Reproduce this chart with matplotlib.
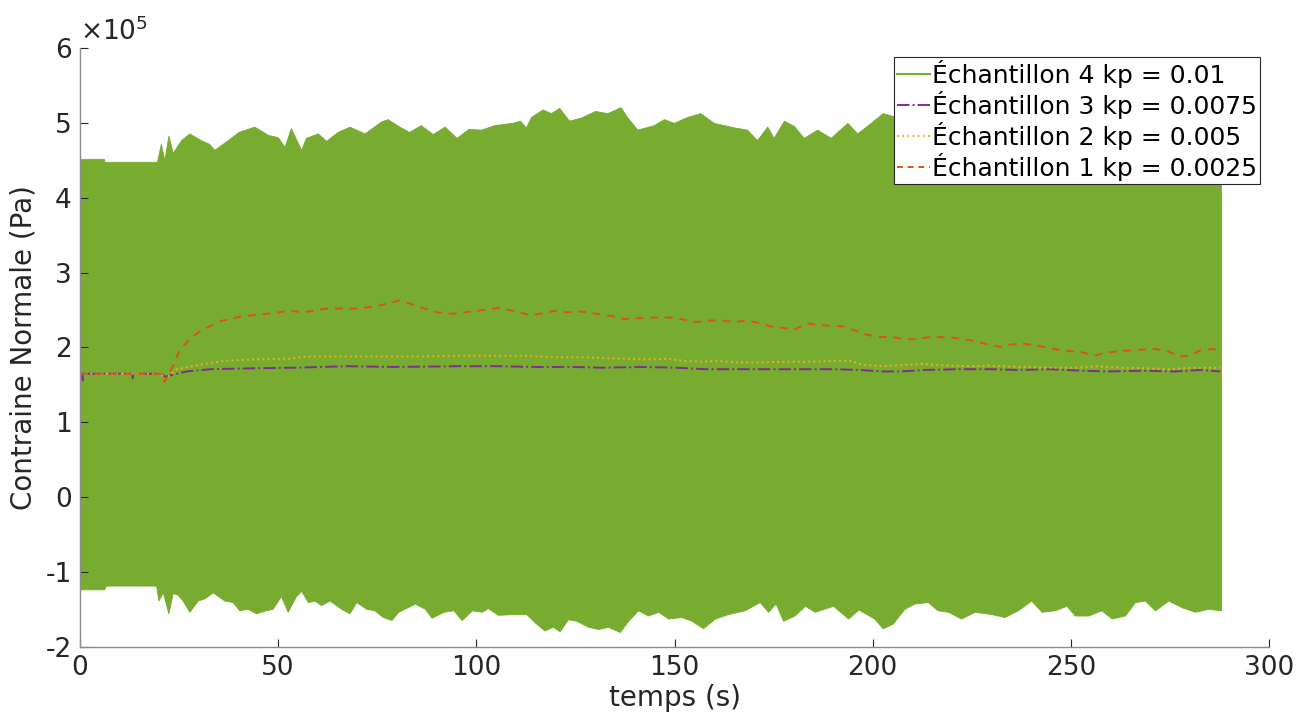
import numpy as np
import matplotlib
matplotlib.use("Agg")
import matplotlib.pyplot as plt
from matplotlib.lines import Line2D

plt.rcParams['font.family'] = ['DejaVu Sans']
plt.rcParams['axes.unicode_minus'] = False

SCALE = 1e5  # values below are in units of 1e5 Pa

# Echantillon 4 (kp = 0.01): envelope of the fast oscillation
t_up = [0, 6.0, 6.2, 19.4, 20.4, 21.3, 22.3, 23.4, 25.5, 27.6, 30.5, 32.6, 33.9, 37.3,
        40.0, 44.0, 47.4, 49.9, 51.6, 53.2, 55.8, 57.0, 60.0, 62.1, 65.0, 68.0, 71.8,
        76.0, 77.6, 80.6, 83, 86, 89, 92, 95, 98, 101.2, 104.5, 109, 111, 112.5, 113.8,
        116.7, 118.8, 120.9, 123.4, 126.3, 130, 133, 136.4, 138, 140.6, 144.8, 147.3,
        149.8, 153.2, 156.5, 159.9, 165, 168.3, 170.8, 173.4, 175, 177.6, 180.1, 182.6,
        186, 189.4, 193.6, 196.1, 199.5, 202.5, 208, 215, 222, 230, 238, 246, 254, 262,
        270, 278, 287.9]
v_up = [4.52, 4.52, 4.48, 4.48, 4.72, 4.50, 4.83, 4.60, 4.77, 4.86, 4.77, 4.72, 4.64, 4.77,
        4.88, 4.95, 4.84, 4.81, 4.68, 4.93, 4.64, 4.80, 4.86, 4.76, 4.88, 4.95, 4.86,
        5.02, 5.05, 4.95, 4.88, 4.97, 4.85, 4.95, 4.80, 4.92, 4.91, 4.97, 5.00, 5.03, 4.94, 5.08,
        5.18, 5.13, 5.20, 5.03, 5.07, 5.16, 5.13, 5.21, 5.08, 4.91, 4.97, 5.05,
        5.00, 5.08, 5.13, 5.00, 4.94, 4.91, 4.77, 4.95, 4.80, 5.03, 4.96, 4.80,
        4.91, 4.80, 5.00, 4.86, 5.00, 5.13, 5.05, 5.10, 5.00, 5.08, 5.02, 5.10, 5.05, 5.12,
        5.08, 5.15, 5.10]

t_low = [0, 6.1, 6.5, 19.2, 19.8, 20.9, 22.3, 23.4, 24.6, 25.9, 27.6, 29.7, 31.4, 33.5,
         36.4, 38.5, 40.2, 42.3, 44.4, 46.9, 48.6, 50.7, 52.4, 54.5, 55.8, 57.5, 59.2,
         60.8, 63.0, 65.9, 68.0, 69.7, 72.2, 74.3, 76.4, 78.6, 80.3, 84.5, 87.0, 88.7,
         91.7, 94.2, 96.3, 98.9, 101.4, 102.9, 105.4, 109.6, 112.6, 114.7, 117.2, 119.3,
         121.0, 123.1, 125.2, 128.2, 130.7, 133.2, 136.2, 138.3, 140.8, 143.3, 145.9,
         148.4, 151.8, 154.3, 157.2, 160.2, 163.5, 167.7, 171.5, 173.6, 175.5, 177.4,
         180.3, 182.9, 185.4, 190.0, 193.8, 196.4, 200.4, 202.5, 205.0, 208.0, 210.5,
         213.9, 216.4, 219.0, 222.3, 225.7, 229.9, 233.3, 236.6, 240.0, 242.6, 245.9,
         248.9, 251.0, 254.4, 257.7, 260.3, 263.6, 266.2, 268.7, 271.2, 274.6, 278.0,
         281.3, 284.7, 287.9]
v_low = [-1.23, -1.23, -1.18, -1.18, -1.38, -1.27, -1.55, -1.28, -1.30, -1.38, -1.53, -1.38, -1.35, -1.27,
         -1.38, -1.40, -1.51, -1.49, -1.55, -1.51, -1.49, -1.32, -1.53, -1.32, -1.25, -1.40, -1.38,
         -1.44, -1.38, -1.49, -1.55, -1.40, -1.49, -1.51, -1.60, -1.64, -1.53, -1.42, -1.49, -1.61,
         -1.53, -1.51, -1.64, -1.51, -1.53, -1.48, -1.57, -1.56, -1.56, -1.67, -1.78, -1.73,
         -1.79, -1.63, -1.65, -1.73, -1.76, -1.73, -1.80, -1.65, -1.51, -1.58, -1.53,
         -1.62, -1.60, -1.65, -1.75, -1.62, -1.56, -1.51, -1.40, -1.53, -1.42, -1.65,
         -1.58, -1.45, -1.53, -1.45, -1.62, -1.50, -1.62, -1.75, -1.69, -1.49, -1.42,
         -1.40, -1.51, -1.53, -1.62, -1.53, -1.56, -1.60, -1.51, -1.38, -1.53, -1.51,
         -1.45, -1.58, -1.58, -1.51, -1.62, -1.58, -1.40, -1.38, -1.51, -1.38, -1.47,
         -1.53, -1.49, -1.51]

# Echantillon 3 (kp = 0.0075)
t_e3 = [0, 0.6, 0.7, 0.8, 13.2, 13.3, 13.4, 20.5, 21.4, 26.9, 32.8, 41.2, 53.8, 68, 79,
        95.8, 105, 115, 125, 131.5, 142, 150.4, 157.7, 163, 173.4, 183.9, 190.2, 196.5,
        202.8, 207, 213.3, 221.6, 230, 236.3, 244.7, 253.1, 259.4, 267.8, 276.2, 282.6, 287.7]
v_e3 = [1.65, 1.65, 1.56, 1.65, 1.65, 1.59, 1.65, 1.65, 1.61, 1.68, 1.71, 1.72, 1.73, 1.75, 1.74,
        1.75, 1.75, 1.74, 1.74, 1.73, 1.74, 1.73, 1.71, 1.71, 1.71, 1.71, 1.71, 1.70,
        1.68, 1.68, 1.70, 1.71, 1.71, 1.70, 1.71, 1.69, 1.68, 1.69, 1.68, 1.70, 1.68]

# Echantillon 2 (kp = 0.005)
t_e2 = [0, 20.5, 21.3, 24.4, 30.3, 36.2, 42.9, 53, 57.2, 69.8, 86.7, 95, 105, 112, 120, 126,
        131.5, 137.7, 144.1, 148.3, 152.5, 156.7, 160.9, 166.1, 171.3, 177.6, 183.9, 190.2,
        194.4, 197.5, 202.8, 209.1, 212.2, 218.5, 225.8, 229, 236.3, 244.7, 252, 256.2,
        262.5, 270.9, 275.1, 280.3, 287.7]
v_e2 = [1.65, 1.65, 1.57, 1.71, 1.77, 1.82, 1.84, 1.85, 1.88, 1.88, 1.88, 1.89, 1.89, 1.89, 1.87, 1.87,
        1.86, 1.85, 1.84, 1.85, 1.82, 1.81, 1.82, 1.80, 1.80, 1.81, 1.81, 1.82,
        1.82, 1.77, 1.75, 1.77, 1.78, 1.76, 1.75, 1.76, 1.74, 1.73, 1.73, 1.75,
        1.73, 1.72, 1.71, 1.73, 1.73]

# Echantillon 1 (kp = 0.0025)
t_e1 = [0, 20.5, 21.3, 23.5, 25.2, 27.7, 30.3, 35.3, 41.2, 47.1, 53, 56.3, 62.2, 69.8, 74.8,
        80.7, 84.1, 90, 94.2, 98.7, 103, 106, 110, 113.8, 117, 120, 123, 126.4,
        131.5, 134.1, 137.2, 140.4, 143.6, 146.7, 149.8, 152.5, 155.6, 158.8, 161.9, 165,
        168.2, 171.3, 174.5, 177.6, 180.2, 183.4, 186.5, 189.7, 192.8, 195.4, 198.6, 201.7,
        204.9, 208, 211.2, 214.3, 216.9, 220.1, 223.2, 226.4, 229, 232.2, 234.8, 237.9,
        241.1, 243.7, 246.8, 250, 252.6, 255.8, 258.9, 262.1, 264.7, 267.8, 271, 274.1,
        277.3, 279.9, 282.6, 285.7, 288.1]
v_e1 = [1.65, 1.65, 1.54, 1.76, 1.97, 2.11, 2.22, 2.35, 2.42, 2.45, 2.49, 2.47, 2.52, 2.52, 2.55,
        2.63, 2.57, 2.47, 2.45, 2.48, 2.51, 2.53, 2.48, 2.43, 2.46, 2.49, 2.47, 2.48,
        2.44, 2.42, 2.38, 2.39, 2.40, 2.40, 2.40, 2.37, 2.34, 2.36, 2.36, 2.34,
        2.36, 2.33, 2.28, 2.26, 2.24, 2.32, 2.30, 2.29, 2.28, 2.23, 2.17, 2.14,
        2.14, 2.11, 2.11, 2.14, 2.14, 2.13, 2.11, 2.08, 2.04, 2.01, 2.04, 2.05,
        2.03, 2.00, 1.97, 1.95, 1.94, 1.89, 1.93, 1.95, 1.96, 1.97, 1.98, 1.96,
        1.88, 1.89, 1.96, 1.98, 1.95]

labels = ['Échantillon 4 kp = 0.01', 'Échantillon 3 kp = 0.0075',
          'Échantillon 2 kp = 0.005', 'Échantillon 1 kp = 0.0025']

c_green = '#77AC30'
c_purple = '#7E2F8E'
c_yellow = '#EDB120'
c_orange = '#D95319'
c_axis = '#262626'

fig = plt.figure(figsize=(13.09, 7.22), dpi=100)
ax = fig.add_axes([0.0611, 0.1039, 0.9084, 0.8296])

# green band: fill between the interpolated envelopes
t_fill = np.union1d(t_up, t_low)
ax.fill_between(t_fill, np.interp(t_fill, t_up, v_up) * SCALE,
                np.interp(t_fill, t_low, v_low) * SCALE,
                color=c_green, lw=0.6, edgecolor=c_green)

ax.plot(np.array(t_e3), np.array(v_e3) * SCALE, color=c_purple, lw=1.4, ls='-.')
ax.plot(np.array(t_e2), np.array(v_e2) * SCALE, color=c_yellow, lw=1.4, ls=':')
ax.plot(np.array(t_e1), np.array(v_e1) * SCALE, color=c_orange, lw=1.4, dashes=(4, 3.5))

ax.set_xlim(0, 300)
ax.set_ylim(-2e5, 6e5)
ax.set_xticks(np.arange(0, 301, 50))
ax.set_yticks(np.arange(-2e5, 6.01e5, 1e5))
ax.set_yticklabels([str(v) for v in range(-2, 7)])

for s in ['top', 'right']:
    ax.spines[s].set_visible(False)
for s in ['left', 'bottom']:
    ax.spines[s].set_color('#8c8c8c')
    ax.spines[s].set_linewidth(1.0)
ax.tick_params(direction='in', length=6, width=0.8, color=c_axis, labelcolor=c_axis,
               labelsize=19, pad=6)

ax.text(0.0, 1.003, r'$\times10^{5}$', transform=ax.transAxes, fontsize=19,
        color=c_axis, ha='left', va='bottom')

ax.set_xlabel('temps (s)', fontsize=20, color=c_axis, labelpad=2)
ax.set_ylabel('Contraine Normale (Pa)', fontsize=20, color=c_axis, labelpad=6)

handles = [Line2D([], [], color=c_green, lw=1.5),
           Line2D([], [], color=c_purple, lw=1.4, ls='-.'),
           Line2D([], [], color=c_yellow, lw=1.4, ls=':'),
           Line2D([], [], color=c_orange, lw=1.4, dashes=(3, 2.5))]
leg = ax.legend(handles, labels, loc='upper right', bbox_to_anchor=(0.9925, 0.985),
                fontsize=18, frameon=True, fancybox=False, framealpha=1,
                handlelength=1.3, handletextpad=0.1, labelspacing=0.12,
                borderpad=0.12, borderaxespad=0)
leg.get_frame().set_edgecolor(c_axis)
leg.get_frame().set_linewidth(0.8)

fig.savefig('out.png', dpi=100)
